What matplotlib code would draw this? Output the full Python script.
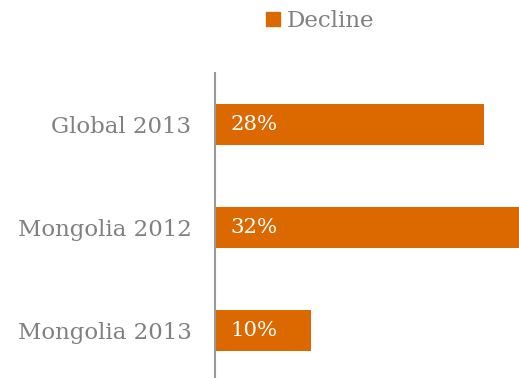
import matplotlib
matplotlib.use('Agg')
import matplotlib.pyplot as plt
from matplotlib.patches import Patch

# decline by region / year
categories = ['Global 2013', 'Mongolia 2012', 'Mongolia 2013']
decline = [28, 32, 10]
value_labels = ['28%', '32%', '10%']

orange = '#DC6900'
grey = '#808080'
plt.rcParams['font.family'] = ['DejaVu Serif']

fig = plt.figure(figsize=(5.19, 3.78), dpi=100)
ax = fig.add_axes([215 / 519, -4 / 378, 1 - 215 / 519, 309 / 378])

ypos = range(len(categories))
ax.barh(ypos, decline, height=0.4, color=orange, label='Decline')
ax.set_ylim(2.5, -0.5)
ax.set_xlim(0, 31.6)

for y, v, lab in zip(ypos, decline, value_labels):
    ax.text(1.6, y, lab, color='white', fontsize=15.3, va='center', ha='left')

ax.set_yticks(list(ypos))
ax.set_yticklabels(categories, fontsize=16.5, color=grey)
ax.tick_params(axis='y', length=0, pad=17)
ax.set_xticks([])
for side in ['top', 'right', 'bottom']:
    ax.spines[side].set_visible(False)
ax.spines['left'].set_color('#999999')
ax.spines['left'].set_linewidth(1.5)

fig.legend(handles=[Patch(color=orange, label='Decline')], loc='center',
           bbox_to_anchor=(320 / 519, 1 - 21 / 378), frameon=False,
           fontsize=16.5, labelcolor=grey, handlelength=0.6, handleheight=0.6,
           handletextpad=0.3)

fig.savefig('out.png', dpi=100)
